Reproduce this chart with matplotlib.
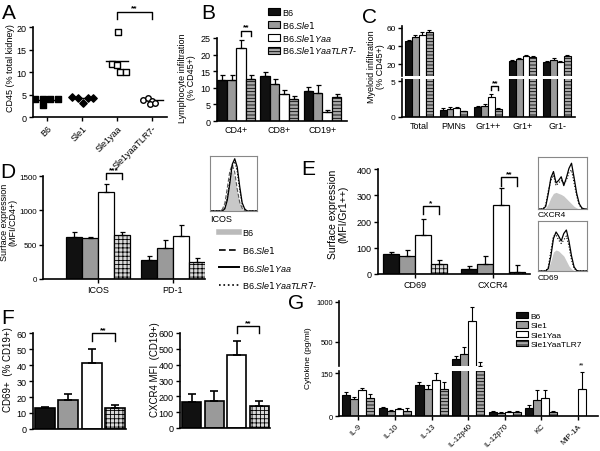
import matplotlib
matplotlib.use("Agg")
import matplotlib.pyplot as plt
from matplotlib.lines import Line2D
from matplotlib.patches import Patch
import numpy as np

plt.rcParams['font.family'] = ['Liberation Sans', 'DejaVu Sans']
plt.rcParams['mathtext.fontset'] = 'custom'
plt.rcParams['mathtext.it'] = 'Liberation Sans:italic'
plt.rcParams['hatch.linewidth'] = 0.6
plt.rcParams['axes.linewidth'] = 1.2
plt.rcParams['xtick.major.size'] = 3
plt.rcParams['ytick.major.size'] = 3
plt.rcParams['xtick.major.width'] = 1
plt.rcParams['ytick.major.width'] = 1
plt.rcParams['xtick.major.pad'] = 1.5
plt.rcParams['ytick.major.pad'] = 1.5

# ---------------- data ----------------
# A : CD45 (% total kidney), individual mice
a_groups = ["B6", "Sle1", "Sle1yaa", "Sle1yaaTLR7-"]
a_b6 = [4.0, 4.0, 4.0, 4.0, 2.6]
a_sle1 = [4.5, 4.3, 3.2, 4.3, 4.2]
a_yaa = [19.0, 11.8, 11.5, 10.0, 10.0]
a_tlr7 = [3.8, 4.2, 3.6, 2.9, 3.1]
a_means = [3.85, 4.2, 12.4, 3.7]
# horizontal scatter of the dots inside a group
a_jit_b6 = [-0.34, -0.11, 0.09, 0.31, -0.11]
a_jit_sle1 = [-0.29, -0.11, 0.03, 0.17, 0.31]
a_jit_yaa = [0.03, -0.15, 0.01, 0.09, 0.25]
a_jit_tlr7 = [-0.25, -0.11, -0.01, -0.06, 0.09]

# B : lymphocyte infiltration (% CD45+)
b_cats = ["CD4+", "CD8+", "CD19+"]
b_vals = [[12.5, 12.5, 22.0, 12.7],
          [13.5, 11.0, 8.0, 6.5],
          [9.0, 8.5, 2.8, 7.2]]
b_errs = [[1.3, 1.3, 2.5, 1.3],
          [1.3, 1.8, 1.3, 1.0],
          [1.3, 2.2, 0.5, 0.8]]

# C : myeloid infiltration (% CD45+)
c_cats = ["Total", "PMNs", "Gr1++", "Gr1+", "Gr1-"]
c_vals = [[45.5, 49.5, 52.5, 56.0],
          [1.0, 1.1, 1.2, 0.8],
          [1.35, 1.5, 2.8, 1.1],
          [23.7, 25.5, 28.5, 28.0],
          [22.6, 24.8, 22.0, 28.5]]
c_errs = [[1.5, 2.5, 3.0, 2.0],
          [0.2, 0.25, 0.25, 0.1],
          [0.25, 0.3, 0.4, 0.15],
          [1.0, 1.5, 1.5, 1.0],
          [1.0, 1.5, 1.5, 1.0]]

# D : surface expression (MFI/CD4+)
d_cats = ["ICOS", "PD-1"]
d_vals = [[610, 590, 1260, 640],
          [280, 450, 620, 250]]
d_errs = [[70, 20, 120, 45],
          [50, 120, 170, 50]]

# E : surface expression (MFI/Gr1++)
e_cats = ["CD69", "CXCR4"]
e_vals = [[75, 70, 150, 38],
          [20, 40, 262, 8]]
e_errs = [[8, 20, 58, 15],
          [10, 30, 65, 25]]

# F : CD19+ B cells
f_cd69 = [13, 18, 41, 13]
f_cd69_err = [1, 4, 9, 2]
f_cxcr4 = [165, 170, 460, 140]
f_cxcr4_err = [50, 65, 90, 30]

# G : cytokines (pg/ml)
g_cats = ["IL-9", "IL-10", "IL-13", "IL-12p40", "IL-12p70", "KC", "MIP-1A"]
g_vals = [[74, 58, 89, 63],
          [28, 18, 25, 19],
          [109, 94, 124, 95],
          [290, 350, 766, 205],
          [14, 12, 15, 15],
          [28, 55, 63, 14],
          [0, 0, 95, 0]]
g_errs = [[8, 8, 10, 15],
          [4, 4, 3, 8],
          [10, 15, 25, 25],
          [35, 90, 175, 50],
          [3, 3, 3, 3],
          [10, 37, 26, 5],
          [0, 0, 60, 0]]

# flow histograms for the insets (relative counts per bin)
hist_icos_b6 = [0, 0, 0, 0, 0, 0.02, 0.1, 0.35, 0.62, 0.74, 0.6, 0.35, 0.15, 0.05, 0.01, 0, 0, 0, 0, 0]
hist_icos_sle1 = [0, 0, 0, 0, 0, 0.03, 0.14, 0.42, 0.72, 0.84, 0.7, 0.4, 0.16, 0.05, 0.01, 0, 0, 0, 0, 0]
hist_icos_yaa = [0, 0, 0, 0, 0, 0, 0.04, 0.2, 0.5, 0.85, 0.95, 0.8, 0.45, 0.15, 0.04, 0, 0, 0, 0, 0]
hist_icos_tlr7 = [0, 0, 0, 0, 0, 0.01, 0.06, 0.25, 0.55, 0.82, 0.9, 0.72, 0.38, 0.12, 0.03, 0, 0, 0, 0, 0]
hist_cxcr4_b6 = [0, 0, 0, 0.02, 0.1, 0.22, 0.3, 0.32, 0.3, 0.28, 0.25, 0.2, 0.15, 0.1, 0.05, 0.02, 0, 0, 0, 0]
hist_cxcr4_yaa = [0, 0, 0, 0.05, 0.3, 0.6, 0.72, 0.5, 0.55, 0.62, 0.45, 0.6, 0.78, 0.88, 0.6, 0.3, 0.1, 0.02, 0, 0]
hist_cxcr4_tlr7 = [0, 0, 0, 0.08, 0.35, 0.55, 0.65, 0.45, 0.5, 0.55, 0.5, 0.55, 0.7, 0.75, 0.5, 0.25, 0.08, 0.01, 0, 0]
hist_cd69_b6 = [0, 0, 0, 0, 0.05, 0.2, 0.38, 0.42, 0.4, 0.35, 0.3, 0.2, 0.1, 0.04, 0.01, 0, 0, 0, 0, 0]
hist_cd69_yaa = [0, 0, 0, 0, 0.05, 0.3, 0.65, 0.78, 0.7, 0.6, 0.75, 0.82, 0.6, 0.3, 0.08, 0.01, 0, 0, 0, 0]
hist_cd69_tlr7 = [0, 0, 0, 0, 0.08, 0.4, 0.7, 0.72, 0.62, 0.55, 0.62, 0.7, 0.5, 0.22, 0.05, 0, 0, 0, 0, 0]

# ---------------- figure ----------------
W, H = 600, 452
fig = plt.figure(figsize=(6, 4.52), dpi=100)

def fx(x):
    return x / W

def fy(y):
    return 1 - y / H

def px_axes(l, t, r, b):
    ax = fig.add_axes([l / W, 1 - b / H, (r - l) / W, (b - t) / H])
    ax.patch.set_alpha(0)
    for s in ['top', 'right']:
        ax.spines[s].set_visible(False)
    ax.tick_params(labelsize=6.5)
    return ax

def letter(x, y, s):
    fig.text(fx(x), fy(y), s, fontsize=15, va='top', ha='left')

def ylab(x, y, s, size=6.5):
    fig.text(fx(x), fy(y), s, rotation=90, ha='center', va='center',
             fontsize=size, multialignment='center', linespacing=1.0)

stripe_col = ['#111111', '#9a9a9a', 'white', '#a8a8a8']
stripe_hat = [None, None, None, '-----']
grid_col = ['#111111', '#9a9a9a', 'white', '#d8d8d8']
grid_hat = [None, None, None, '++++']

def group_bars(ax, vals, errs, width, colors, hatches, lw=0.9, cap=1.8):
    vals = np.asarray(vals, dtype=float)
    errs = np.asarray(errs, dtype=float)
    x = np.arange(vals.shape[0])
    for k in range(vals.shape[1]):
        xk = x + (k - 1.5) * width
        m = vals[:, k] > 0
        ax.bar(xk[m], vals[m, k], width, color=colors[k], edgecolor='black',
               hatch=hatches[k], linewidth=lw, zorder=2)
        ax.errorbar(xk[m], vals[m, k], yerr=[np.zeros(m.sum()), errs[m, k]],
                    fmt='none', ecolor='black', elinewidth=lw, capsize=cap,
                    capthick=lw, zorder=3)

def single_bars(ax, vals, errs, width=0.85, lw=1.2, cap=3):
    x = np.arange(len(vals))
    for k in range(len(vals)):
        ax.bar(x[k], vals[k], width, color=grid_col[k], edgecolor='black',
               hatch=grid_hat[k], linewidth=lw, zorder=2)
    ax.errorbar(x, vals, yerr=[np.zeros(len(vals)), errs], fmt='none',
                ecolor='black', elinewidth=lw, capsize=cap, capthick=lw, zorder=3)

def bracket(ax, x0, x1, y, drop, stars, size=6):
    ax.plot([x0, x0, x1, x1], [y - drop, y, y, y - drop], color='black',
            lw=1, clip_on=False, zorder=4)
    ax.text((x0 + x1) / 2, y, stars, ha='center', va='bottom', fontsize=size,
            fontweight='bold', clip_on=False)

# ---- A ----
axA = px_axes(33, 28, 167, 118)
axA.set_ylim(0, 20)
axA.set_xlim(-0.4, 3.43)
axA.set_yticks([0, 5, 10, 15, 20])
axA.set_xticks(range(4))
axA.set_xticklabels(a_groups, rotation=45, ha='right', rotation_mode='anchor', fontsize=6.5)
axA.scatter(np.array(a_jit_b6), a_b6, marker='s', s=22, c='black', zorder=3)
axA.scatter(1 + np.array(a_jit_sle1), a_sle1, marker='D', s=14, c='black', zorder=3)
axA.scatter(2 + np.array(a_jit_yaa), a_yaa, marker='s', s=22, facecolors='white',
            edgecolors='black', linewidths=1, zorder=3)
axA.scatter(3 + np.array(a_jit_tlr7), a_tlr7, marker='o', s=16, facecolors='white',
            edgecolors='black', linewidths=1, zorder=3)
for i, m in enumerate(a_means):
    axA.plot([i - 0.32, i + 0.32], [m, m], color='black', lw=1)
bracket(axA, 2, 3, 23.4, 1.6, '**')
ylab(11, 68, 'CD45 (% total kidney)', 6.5)
letter(2, 4, 'A')

# ---- B ----
axB = px_axes(217, 39, 347, 122)
axB.set_ylim(0, 25)
axB.set_xlim(-0.45, 2.57)
axB.set_yticks([0, 5, 10, 15, 20, 25])
axB.set_xticks(range(3))
axB.set_xticklabels(b_cats)
axB.tick_params(axis='x', length=0, pad=3)
group_bars(axB, b_vals, b_errs, 0.22, stripe_col, stripe_hat)
bracket(axB, 0.5 * 0.22, 1.5 * 0.22, 27.2, 1.6, '**')
ylab(187, 78, 'Lymphocyte infiltration\n(% CD45+)', 6.5)
letter(201, 4, 'B')
b_handles = [Patch(facecolor=stripe_col[k], edgecolor='black', hatch=stripe_hat[k], lw=0.8)
             for k in range(4)]
fig.legend(b_handles, ['B6', r'B6.$\mathit{Sle1}$', r'B6.$\mathit{Sle1Yaa}$',
                       r'B6.$\mathit{Sle1YaaTLR7}$-'],
           loc='upper left', bbox_to_anchor=(fx(268), fy(9)), frameon=False,
           fontsize=6.5, handlelength=1.3, handleheight=0.8, labelspacing=0.2,
           handletextpad=0.3, borderpad=0, borderaxespad=0)

# ---- C (broken axis) ----
axC1 = px_axes(402, 27, 575, 77)
axC2 = px_axes(402, 80, 575, 118)
axC1.set_ylim(6.7, 62.2)
axC2.set_ylim(0, 5.3)
for a in (axC1, axC2):
    a.set_xlim(-0.49, 4.52)
    a.tick_params(axis='y', labelsize=6)
    group_bars(a, c_vals, c_errs, 0.2, stripe_col, stripe_hat, lw=0.8, cap=1.5)
axC1.spines['bottom'].set_visible(False)
axC1.set_xticks([])
axC1.set_yticks([20, 40, 60])
axC2.set_yticks([0, 5])
axC2.set_xticks(range(5))
axC2.set_xticklabels(c_cats)
axC2.tick_params(axis='x', length=0, pad=3)
bracket(axC2, 2 + 0.5 * 0.2, 2 + 1.5 * 0.2, 4.3, 0.6, '**')
ylab(376, 67, 'Myeloid infiltration\n(% CD45+)', 6.5)
letter(362, 8, 'C')

# ---- D ----
axD = px_axes(43, 177, 205, 280)
axD.set_ylim(0, 1500)
axD.set_xlim(-0.73, 1.43)
axD.set_yticks([0, 500, 1000, 1500])
axD.tick_params(axis='y', labelsize=5.8)
axD.set_xticks(range(2))
axD.set_xticklabels(d_cats)
group_bars(axD, d_vals, d_errs, 0.213, grid_col, grid_hat)
bracket(axD, 0.5 * 0.213, 1.5 * 0.213, 1544, 90, '***')
ylab(9, 222, 'Surface expression\n(MFI/CD4+)', 6.5)
letter(0, 163, 'D')

def hist_inset(l, t, r, b, fill, solid, dotted, dashed=None):
    ax = fig.add_axes([l / W, 1 - b / H, (r - l) / W, (b - t) / H])
    x = np.arange(len(fill))
    ax.fill_between(x, fill, color='#c8c8c8', lw=0)
    if dashed is not None:
        ax.plot(x, dashed, color='#555555', lw=0.8, ls='--')
    ax.plot(x, dotted, color='black', lw=0.8, ls=':')
    ax.plot(x, solid, color='black', lw=0.9)
    ax.set_xlim(0, len(fill) - 1)
    ax.set_ylim(0, 1)
    ax.set_xticks([])
    ax.set_yticks([])
    for s in ax.spines.values():
        s.set_color('#888888')
        s.set_linewidth(0.8)
    return ax

hist_inset(210, 157, 257, 212, hist_icos_b6, hist_icos_yaa, hist_icos_tlr7, hist_icos_sle1)
fig.text(fx(210), fy(215), 'ICOS', fontsize=6.5, va='top')
d_handles = [Line2D([], [], color='#bbbbbb', lw=4),
             Line2D([], [], color='black', lw=1.2, ls=(0, (4, 2))),
             Line2D([], [], color='black', lw=1.4),
             Line2D([], [], color='black', lw=1.2, ls=':')]
fig.legend(d_handles, ['B6', r'B6.$\mathit{Sle1}$', r'B6.$\mathit{Sle1Yaa}$',
                       r'B6.$\mathit{Sle1YaaTLR7}$-'],
           loc='upper left', bbox_to_anchor=(fx(219), fy(229)), frameon=False,
           fontsize=6.5, handlelength=2.2, labelspacing=0.75,
           handletextpad=0.4, borderpad=0, borderaxespad=0)

# ---- E ----
axE = px_axes(378, 170, 530, 275)
axE.set_ylim(0, 400)
axE.set_xlim(-0.47, 1.47)
axE.set_yticks([0, 100, 200, 300, 400])
axE.set_xticks(range(2))
axE.set_xticklabels(e_cats)
group_bars(axE, e_vals, e_errs, 0.205, grid_col, grid_hat)
bracket(axE, 0.5 * 0.205, 1.5 * 0.205, 260, 30, '*')
bracket(axE, 1 + 0.5 * 0.205, 1 + 1.5 * 0.205, 370, 34, '**')
ylab(338, 214, 'Surface expression\n(MFI/Gr1++)', 7.5)
letter(301, 160, 'E')
hist_inset(538, 158, 587, 210, hist_cxcr4_b6, hist_cxcr4_yaa, hist_cxcr4_tlr7)
fig.text(fx(538), fy(212), 'CXCR4', fontsize=6, va='top')
hist_inset(538, 222, 587, 272, hist_cd69_b6, hist_cd69_yaa, hist_cd69_tlr7)
fig.text(fx(538), fy(275), 'CD69', fontsize=6, va='top')

# ---- F ----
axF1 = px_axes(33, 334, 126, 430)
axF1.set_ylim(0, 60)
axF1.set_xlim(-0.5, 3.45)
axF1.set_yticks(range(0, 61, 10))
axF1.set_xticks([])
single_bars(axF1, f_cd69, f_cd69_err)
bracket(axF1, 2, 3, 60, 5, '**')
ylab(8, 370, 'CD69+  (% CD19+)', 7)
letter(1, 309, 'F')

axF2 = px_axes(180, 334, 270, 429)
axF2.set_ylim(0, 600)
axF2.set_xlim(-0.53, 3.47)
axF2.set_yticks(range(0, 601, 100))
axF2.set_xticks([])
single_bars(axF2, f_cxcr4, f_cxcr4_err)
bracket(axF2, 2, 3, 644, 44, '**')
ylab(155, 370, 'CXCR4 MFI  (CD19+)', 7)

# ---- G (broken axis) ----
axG1 = px_axes(339, 302, 598, 367)
axG2 = px_axes(339, 372, 598, 417)
axG1.set_ylim(200, 1012)
axG2.set_ylim(0, 157)
for a in (axG1, axG2):
    a.set_xlim(-0.53, 6.55)
    a.tick_params(labelsize=5.5)
    group_bars(a, g_vals, g_errs, 0.22, stripe_col, stripe_hat, lw=0.8, cap=1.5)
axG1.spines['bottom'].set_visible(False)
axG1.set_xticks([])
axG1.set_yticks([500, 1000])
axG2.set_yticks([0, 150])
axG2.set_xticks(range(7))
axG2.set_xticklabels(g_cats, rotation=45, ha='right', rotation_mode='anchor')
axG2.text(6 + 0.5 * 0.22, 165, '**', ha='center', va='bottom', fontsize=5, clip_on=False)
ylab(308, 358, 'Cytokine (pg/ml)', 6)
letter(288, 294, 'G')
g_handles = [Patch(facecolor=stripe_col[k], edgecolor='black', hatch=stripe_hat[k], lw=0.8)
             for k in range(4)]
fig.legend(g_handles, ['B6', 'Sle1', 'Sle1Yaa', 'Sle1YaaTLR7'],
           loc='upper left', bbox_to_anchor=(fx(516), fy(313)), frameon=False,
           fontsize=6, handlelength=1.4, handleheight=0.8, labelspacing=0.15,
           handletextpad=0.3, borderpad=0, borderaxespad=0)

fig.savefig('out.png', dpi=100)
